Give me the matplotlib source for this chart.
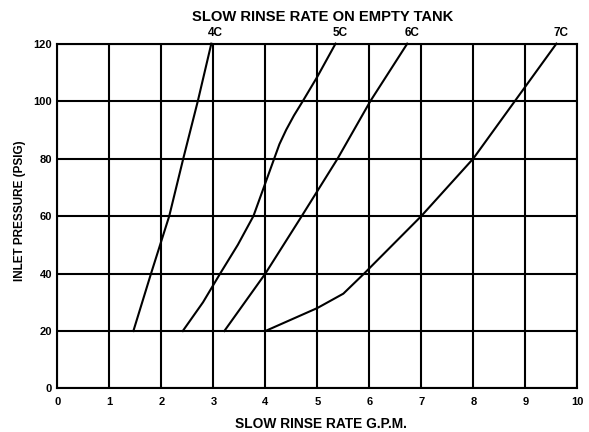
import matplotlib
matplotlib.use("Agg")
import matplotlib.pyplot as plt

plt.rcParams['font.family'] = ['Liberation Sans', 'DejaVu Sans']

x_4c = [1.46, 1.80, 2.15, 2.42, 2.70, 2.96]
y_4c = [20, 40, 60, 80, 100, 120]
x_5c = [2.41, 2.80, 3.13, 3.47, 3.77, 3.97, 4.17, 4.27, 4.40, 4.55, 4.72, 5.00, 5.35]
y_5c = [20, 30, 40, 50, 60, 70, 80, 85, 90, 95, 100, 108.5, 120]
x_6c = [3.21, 4.00, 4.70, 5.39, 6.02, 6.73]
y_6c = [20, 40, 60, 80, 100, 120]
x_7c = [4.0, 4.5, 5.0, 5.5, 5.9, 7.0, 8.0, 8.8, 9.0, 9.6]
y_7c = [20, 24, 28, 33, 40, 60, 80, 100, 105, 120]

series = [("4C", x_4c, y_4c, 3.03), ("5C", x_5c, y_5c, 5.44),
          ("6C", x_6c, y_6c, 6.83), ("7C", x_7c, y_7c, 9.68)]

xticks = list(range(0, 11))
yticks = list(range(0, 121, 20))

fig = plt.figure(figsize=(5.89, 4.32), dpi=100)
ax = fig.add_axes([0.0976, 0.1007, 0.8824, 0.7983])
ax.set_xlim(0, 10)
ax.set_ylim(0, 120)
ax.set_xticks(xticks)
ax.set_yticks(yticks)
ax.tick_params(length=0, labelsize=8)
ax.tick_params(axis='x', pad=6)
ax.tick_params(axis='y', pad=4)
for lab in ax.get_xticklabels() + ax.get_yticklabels():
    lab.set_fontweight('bold')
ax.grid(True, color='black', linewidth=1.5)
for s in ax.spines.values():
    s.set_linewidth(1.5)
    s.set_color('black')

for name, xs, ys, lx in series:
    ax.plot(xs, ys, color='black', linewidth=1.5, clip_on=False)
    ax.text(lx, 121.5, name, ha='center', va='bottom', fontsize=8.5, fontweight='bold')

fig.text(323 / 589, 1 - 17 / 432, "SLOW RINSE RATE ON EMPTY TANK", ha='center', va='center',
         fontsize=10.6, fontweight='bold')
fig.text(321 / 589, 1 - 424 / 432, "SLOW RINSE RATE G.P.M.", ha='center', va='center',
         fontsize=9.9, fontweight='bold')
fig.text(20 / 589, 1 - 211 / 432, "INLET PRESSURE (PSIG)", ha='center', va='center',
         rotation=90, fontsize=8.5, fontweight='bold')

fig.savefig("out.png", dpi=100)
